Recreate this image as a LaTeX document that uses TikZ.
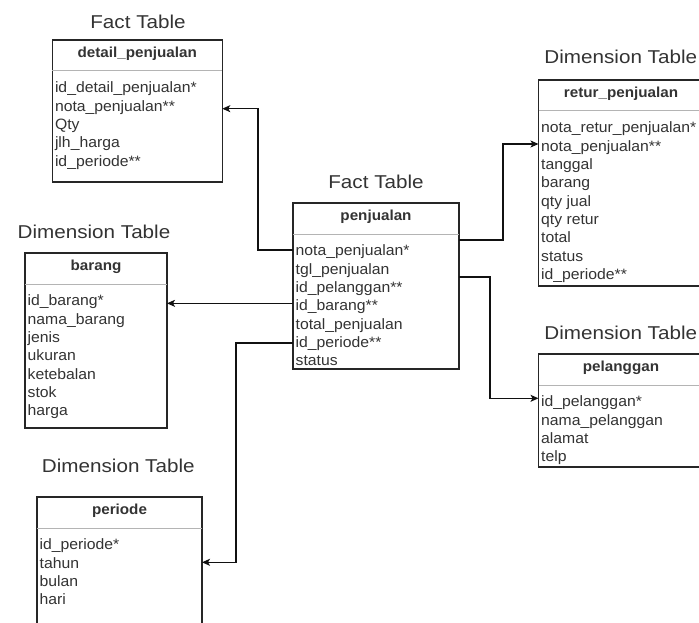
\documentclass[tikz,border=0pt]{standalone}
\usepackage{fontspec}
\setmainfont{Liberation Sans}[FakeStretch=1.05]
\newfontfamily\ttlfont{Liberation Sans}[FakeStretch=1.11]
\usetikzlibrary{arrows.meta}
\definecolor{txt}{HTML}{333333}
\definecolor{bord}{HTML}{262626}
\definecolor{sepc}{HTML}{B4B4B4}
\definecolor{lnc}{HTML}{111111}
\tikzset{
  tbl/.style={draw=bord, line width=1.2pt, anchor=north west, inner sep=0pt, outer sep=0pt, fill=white},
  sepl/.style={draw=sepc, line width=1pt},
  hdr/.style={anchor=mid, inner sep=0pt, font=\fontsize{14.5}{16}\selectfont\bfseries, text=txt},
  rowt/.style={anchor=mid west, inner sep=0pt, font=\fontsize{15}{17}\selectfont, text=txt, text height=0.75em, text depth=0.231em},
  ttl/.style={inner sep=0pt, font=\ttlfont\fontsize{18.6}{22}\selectfont, text=txt},
  conn/.style={draw=lnc, line width=1.2pt, -{Stealth[length=8pt,width=7pt,inset=2pt]}},
}
\newcommand\erbox[7]{%
  \node[tbl, minimum width=#4pt, minimum height=#5pt] (#1) at (#2,#3) {};
  \draw[sepl] ([yshift=-31pt]#1.north west) -- ([yshift=-31pt]#1.north east);
  \node[hdr] (#1h) at ([yshift=-15pt]#1.north) {#6};
  \foreach \rowtext [count=\ri] in {#7}
    \node[rowt] (#1r\ri) at ([xshift=2.5pt,yshift={-50.3pt-18.33pt*(\ri-1)}]#1.north west) {\rowtext};
}
\begin{document}
\begin{tikzpicture}[x=1pt,y=-1pt]
\useasboundingbox (0,0) rectangle (699,623);
\clip (0,0) rectangle (699,623);

% titles
\node[ttl] (t1) at (138,21.7) {Fact Table};
\node[ttl] (t2) at (376,182) {Fact Table};
\node[ttl] (t3) at (94,231.7) {Dimension Table};
\node[ttl] (t4) at (620.8,56.7) {Dimension Table};
\node[ttl] (t5) at (620.8,332.7) {Dimension Table};
\node[ttl] (t6) at (118.3,466.3) {Dimension Table};

% tables
\erbox{dp}{52.3}{40}{170}{142}{detail\_penjualan}{id\_detail\_penjualan*, nota\_penjualan**, Qty, jlh\_harga, id\_periode**}
\erbox{pj}{293}{203}{166}{166}{penjualan}{nota\_penjualan*, tgl\_penjualan, id\_pelanggan**, id\_barang**, total\_penjualan, id\_periode**, status}
\erbox{br}{25}{253}{142}{175}{barang}{id\_barang*, nama\_barang, jenis, ukuran, ketebalan, stok, harga}
\erbox{rt}{538.5}{80}{165}{206}{retur\_penjualan}{nota\_retur\_penjualan*, nota\_penjualan**, tanggal, barang, qty jual, qty retur, total, status, id\_periode**}
\erbox{pl}{538.5}{354}{165}{113}{pelanggan}{id\_pelanggan*, nama\_pelanggan, alamat, telp}
\erbox{pr}{37}{497}{165}{140}{periode}{id\_periode*, tahun, bulan, hari}

% connectors
\coordinate (s1) at ([yshift=-47pt]pj.north west);
\coordinate (k1) at (258,180);
\draw[conn] (s1) -| (k1) |- (dp.east |- dpr2);

\draw[conn] (pj.west |- brr1) -- (br.east |- brr1);

\coordinate (s3) at ([yshift=-140pt]pj.north west);
\coordinate (e3) at ([yshift=-65.3pt]pr.north east);
\coordinate (k3) at (236,450);
\draw[conn] (s3) -| (k3) |- (e3);

\coordinate (s4) at ([yshift=-37pt]pj.north east);
\coordinate (e4) at ([yshift=-64pt]rt.north west);
\coordinate (k4) at (503,190);
\draw[conn] (s4) -| (k4) |- (e4);

\coordinate (s5) at ([yshift=-74pt]pj.north east);
\coordinate (e5) at ([yshift=-44.3pt]pl.north west);
\coordinate (k5) at (490,340);
\draw[conn] (s5) -| (k5) |- (e5);
\end{tikzpicture}
\end{document}
